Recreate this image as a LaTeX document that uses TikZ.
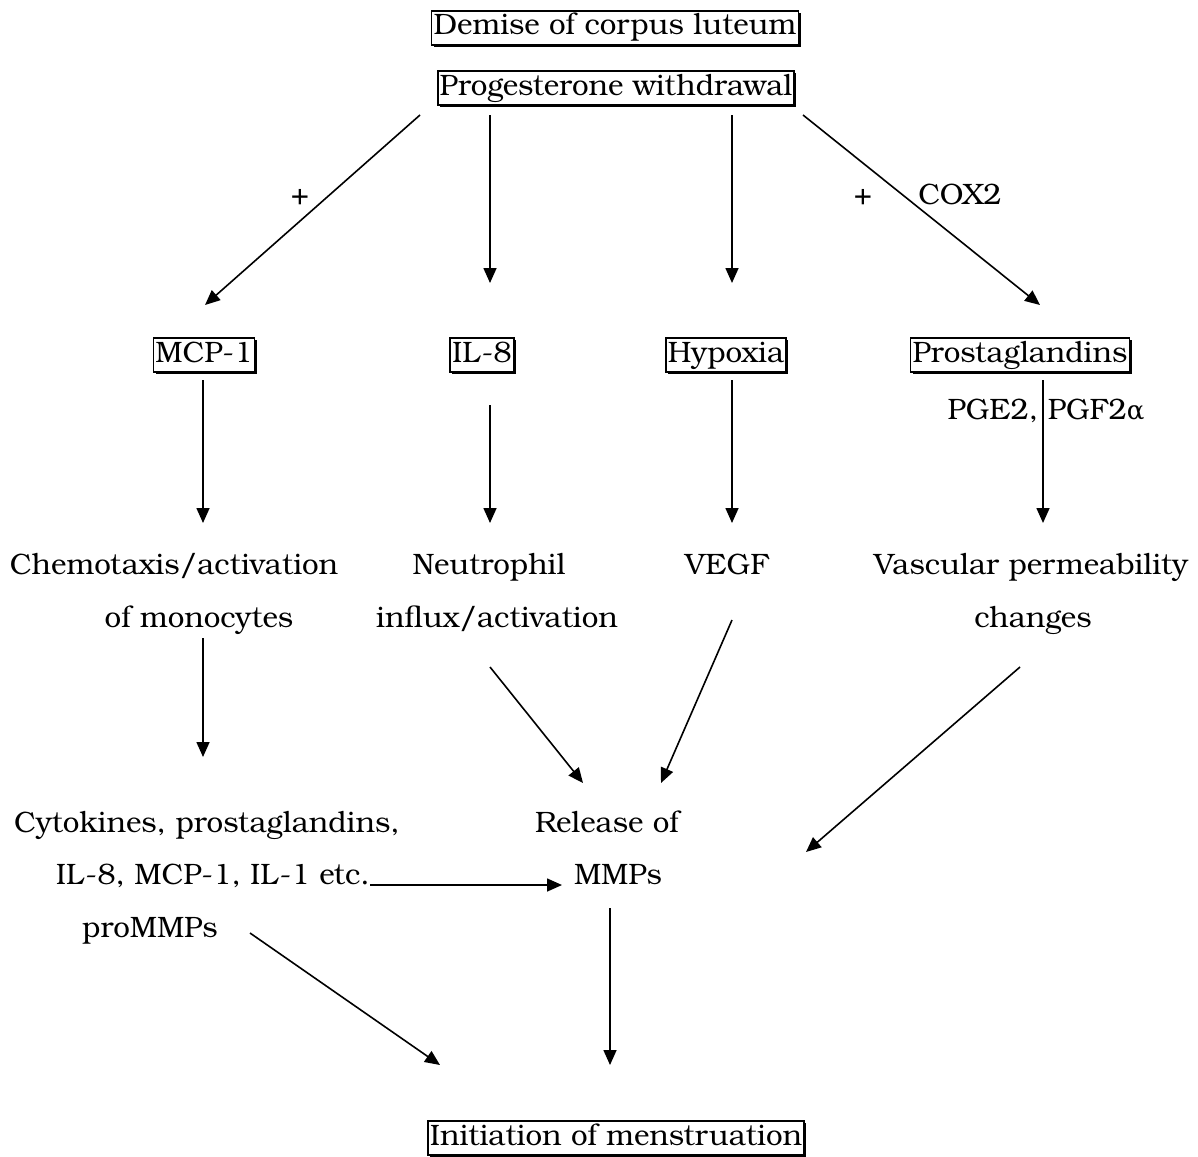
\documentclass[tikz,border=0pt]{standalone}
\usepackage{fontspec}
\setmainfont{texgyrebonum}[Extension=.otf,UprightFont=*-regular,BoldFont=*-bold]
\newfontfamily\dvserif{DejaVu Serif}
\usetikzlibrary{arrows.meta,calc,shadows}
\begin{document}
\begin{tikzpicture}[x=1pt,y=-1pt,
  every node/.style={font=\fontsize{29.5}{34}\selectfont, inner sep=0pt},
  txt/.style={text height=21pt, text depth=7pt},
  boxed/.style={txt, draw, line width=1.7pt, fill=white, inner xsep=2pt, inner ysep=3pt,
     drop shadow={shadow xshift=2.2pt, shadow yshift=-2.2pt, fill=black, opacity=1}},
  arr/.style={line width=1.6pt, -{Triangle[length=15pt,width=13pt]}},
  sgn/.style={txt}]
\useasboundingbox (0,0) rectangle (1198,1156);
% boxed nodes
\node[boxed] (demise) at (615,28) {Demise of corpus luteum};
\node[boxed] (prog) at (616,88) {Progesterone withdrawal};
\node[boxed] (mcp) at (204,355) {MCP-1};
\node[boxed] (il8) at (482,355) {IL-8};
\node[boxed] (hyp) at (726,355) {Hypoxia};
\node[boxed] (prost) at (1020,355) {Prostaglandins};
\node[boxed] (init) at (616,1138) {Initiation of menstruation};
% text nodes
\node[txt] (pge) at (1046,412) {PGE2, PGF2{\dvserif\fontsize{26}{30}\selectfont α}};
\node[txt] (chem1) at (174,567) {Chemotaxis/activation};
\node[txt] (chem2) at (199,620) {of monocytes};
\node[txt] (neu1) at (489,567) {Neutrophil};
\node[txt] (neu2) at (497,620) {influx/activation};
\node[txt] (vegf) at (727,567) {VEGF};
\node[txt] (vasc1) at (1031,567) {Vascular permeability};
\node[txt] (vasc2) at (1033,620) {changes};
\node[txt] (cyt1) at (207,825) {Cytokines, prostaglandins,};
\node[txt] (cyt2) at (213,877) {IL-8, MCP-1, IL-1 etc.};
\node[txt] (cyt3) at (150,930) {proMMPs};
\node[txt] (rel1) at (607,825) {Release of};
\node[txt] (rel2) at (618,877) {MMPs};
% labels
\node[sgn] (plus1) at (300,197) {+};
\node[sgn] (plus2) at (863,197) {+};
\node[txt] (cox) at (960,197) {COX2};
% connectors
\draw[arr] ($(prog)+(-196,27)$) -- ($(mcp)+(1,-50)$);
\draw[arr] ($(prog)+(-126,27)$) -- ($(il8)+(8,-72)$);
\draw[arr] ($(prog)+(116,27)$) -- ($(hyp)+(6,-72)$);
\draw[arr] ($(prog)+(187,27)$) -- ($(prost)+(20,-50)$);
\draw[arr] ($(mcp)+(-1,25)$) -- ($(chem1)+(29,-44)$);
\draw[arr] ($(il8)+(8,50)$) -- ($(neu1)+(1,-44)$);
\draw[arr] ($(hyp)+(6,25)$) -- ($(vegf)+(5,-44)$);
\draw[arr] ($(prost)+(23,25)$) -- ($(vasc1)+(12,-44)$);
\draw[arr] ($(chem2)+(4,18)$) -- ($(cyt1)+(-4,-68)$);
\draw[arr] ($(neu2)+(-7,47)$) -- ($(rel1)+(-24,-42)$);
\draw[arr] ($(vegf)+(5,53)$) -- ($(rel1)+(54,-42)$);
\draw[arr] ($(vasc2)+(-13,47)$) -- ($(init)+(190,-286)$);
\draw[arr] ($(cyt2)+(157,8)$) -- ($(rel2)+(-56,8)$);
\draw[arr] ($(cyt3)+(100,3)$) -- ($(init)+(-176,-73)$);
\draw[arr] ($(rel2)+(-8,31)$) -- ($(init)+(-6,-73)$);
\end{tikzpicture}
\end{document}
